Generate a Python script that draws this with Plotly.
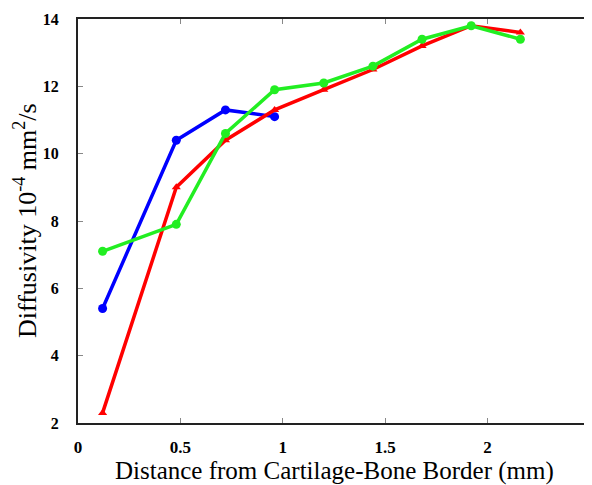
import plotly.graph_objects as go

x_blue = [0.12, 0.48, 0.72, 0.96]
y_blue = [5.4, 10.4, 11.3, 11.1]
x_red = [0.12, 0.48, 0.72, 0.96, 1.2, 1.44, 1.68, 1.92, 2.16]
y_red = [2.3, 9.0, 10.4, 11.3, 11.9, 12.5, 13.2, 13.8, 13.6]
x_green = [0.12, 0.48, 0.72, 0.96, 1.2, 1.44, 1.68, 1.92, 2.16]
y_green = [7.1, 7.9, 10.6, 11.9, 12.1, 12.6, 13.4, 13.8, 13.4]
x_ticks = [0, 0.5, 1, 1.5, 2, 2.5]
x_tick_labels = ["0", "0.5", "1", "1.5", "2", "2.5"]
y_ticks = [2, 4, 6, 8, 10, 12, 14]

fig = go.Figure()
fig.add_trace(go.Scatter(x=x_blue, y=y_blue, mode="lines+markers",
                         line=dict(color="#0000FF", width=3.5),
                         marker=dict(color="#0000FF", size=9, symbol="circle")))
fig.add_trace(go.Scatter(x=x_red, y=y_red, mode="lines+markers",
                         line=dict(color="#FF0000", width=3.5),
                         marker=dict(color="#FF0000", size=8, symbol="triangle-up")))
fig.add_trace(go.Scatter(x=x_green, y=y_green, mode="lines+markers",
                         line=dict(color="#22EE22", width=3.5),
                         marker=dict(color="#22EE22", size=9, symbol="circle")))

font_fam = "Liberation Serif"
fig.update_layout(
    width=584, height=477,
    margin=dict(l=70, r=2, t=11, b=62),
    paper_bgcolor="white", plot_bgcolor="white",
    showlegend=False,
    font=dict(family=font_fam, color="black"),
    xaxis=dict(range=[0, 2.5], tickvals=x_ticks, ticktext=x_tick_labels,
               ticks="inside", ticklen=5, tickcolor="#888", mirror="ticks",
               showline=True, linecolor="#222", linewidth=2, showgrid=False, zeroline=False,
               automargin=False, ticklabelstandoff=8,
               tickfont=dict(size=17, family=font_fam, weight="bold")),
    yaxis=dict(range=[2, 14], tickvals=y_ticks,
               ticks="inside", ticklen=5, tickcolor="#888", mirror="ticks",
               showline=True, linecolor="#222", linewidth=2, showgrid=False, zeroline=False,
               automargin=False, ticklabelstandoff=14,
               tickfont=dict(size=16, family=font_fam, weight="bold")),
    annotations=[
        dict(text="Distance from Cartilage-Bone Border (mm)", xref="paper", yref="paper",
             x=0.5, y=-0.118, xanchor="center", yanchor="middle", showarrow=False,
             font=dict(size=25, family=font_fam)),
        dict(text="Diffusivity 10<sup>-4</sup> mm<sup>2</sup>/s", xref="paper", yref="paper",
             x=-0.1035, y=0.5, xanchor="center", yanchor="middle", showarrow=False,
             textangle=-90, font=dict(size=26, family=font_fam)),
    ],
)
fig.write_html("out.html")
